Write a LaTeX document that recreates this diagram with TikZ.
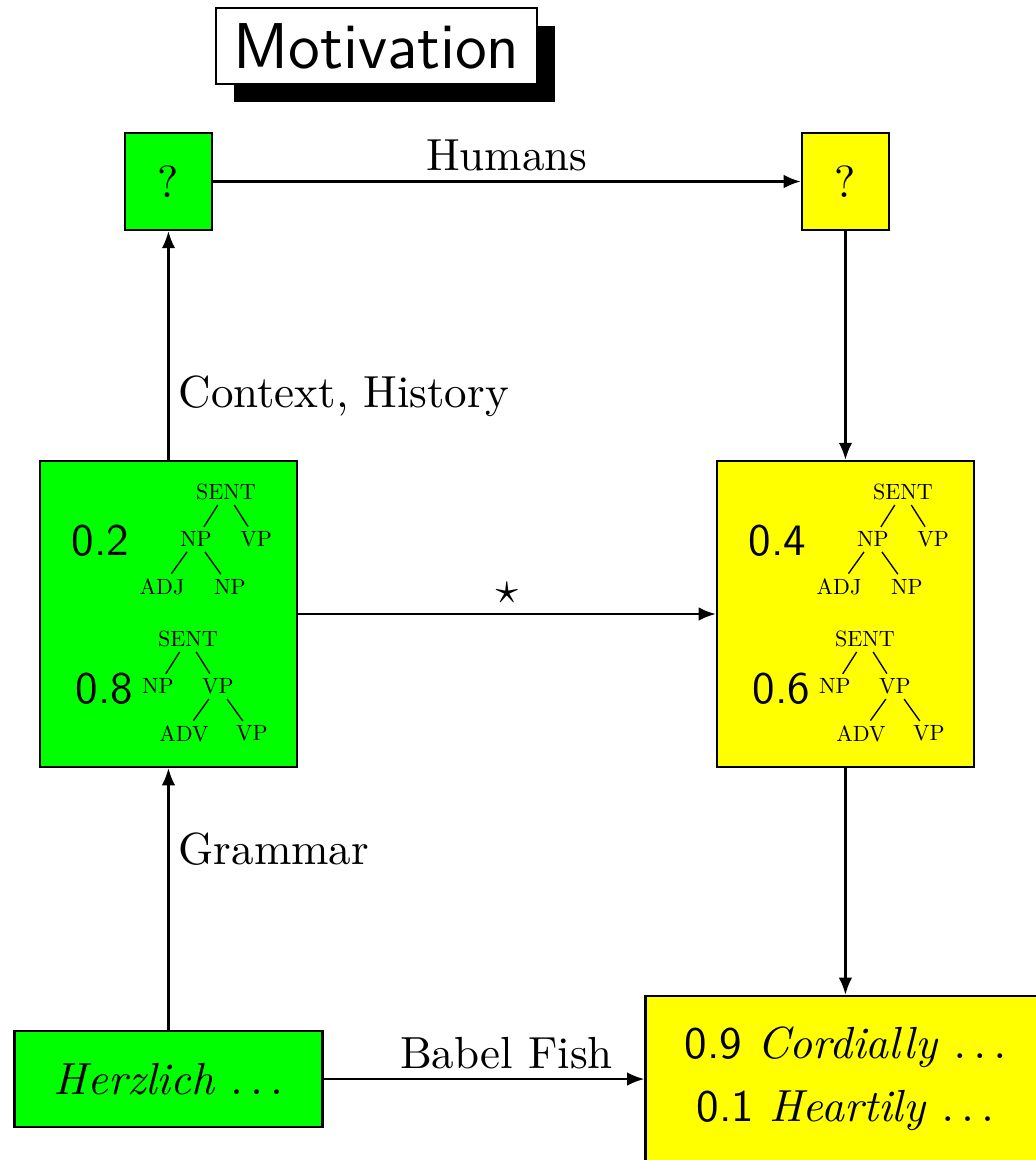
\documentclass[tikz,border=0pt]{standalone}
\usetikzlibrary{arrows.meta,shadows}

\definecolor{greenBox}{RGB}{0,255,0}
\definecolor{yellowBox}{RGB}{255,255,0}

% two weighted parse trees inside a box
\newcommand{\parsetrees}[3]{%
  \begin{scope}[shift={(#1.center)}]
    \node[prob] (#1-pa) at (-0.53,0.57) {#2};
    \node[prob] (#1-pb) at (-0.5,-0.58) {#3};
    % first tree
    \node[leaf] (#1-sa) at (0.45,0.953) {SENT}
      child {node[leaf] (#1-npa) {NP}
        child {node[leaf] (#1-adj) {ADJ}}
        child {node[leaf] (#1-npb) {NP}}}
      child {node[leaf] (#1-vpa) {VP}};
    % second tree
    \node[leaf] (#1-sb) at (0.152,-0.195) {SENT}
      child {node[leaf] (#1-npc) {NP}}
      child {node[leaf] (#1-vpb) {VP}
        child {node[leaf] (#1-adv) {ADV}}
        child {node[leaf] (#1-vpc) {VP}}};
  \end{scope}}

\begin{document}
\begin{tikzpicture}[line width=0.5pt,
    box/.style={draw, inner sep=0pt},
    qbox/.style={box, minimum width=0.68cm, minimum height=0.758cm},
    treebox/.style={box, minimum width=2.008cm, minimum height=2.391cm},
    prob/.style={font=\sffamily},
    leaf/.style={font=\normalsize, scale=0.49, inner sep=2pt},
    level distance=0.37cm,
    level 1/.style={sibling distance=0.47cm},
    level 2/.style={sibling distance=0.53cm},
    edge from parent/.style={draw, line width=0.3pt},
    arr/.style={-{Latex[length=3.8pt,width=3pt]}},
    lab/.style={inner sep=2pt},
    title/.style={draw, fill=white, font=\sffamily\Large,
      minimum width=2.508cm, minimum height=0.594cm,
      general shadow={fill=black, shadow xshift=0.14cm, shadow yshift=-0.14cm}}]
  \useasboundingbox (0,0) rectangle (8.086,-9.0625);

  \node[title] (title) at (2.941,-0.359) {Motivation};

  % Boxes
  \node[qbox, fill=greenBox] (gq) at (1.316,-1.418) {?};
  \node[qbox, fill=yellowBox] (yq) at (6.605,-1.418) {?};
  \node[treebox, fill=greenBox] (gtree) at (1.316,-4.797) {};
  \node[treebox, fill=yellowBox] (ytree) at (6.605,-4.797) {};
  \node[box, fill=greenBox, minimum width=2.406cm, minimum height=0.75cm]
    (herz) at (1.316,-8.43) {\textit{Herzlich} $\ldots$};
  \node[box, fill=yellowBox, minimum width=3.125cm, minimum height=1.3cm, align=center]
    (result) at (6.605,-8.43)
    {\textsf{0.9} \textit{Cordially} $\ldots$\\[2pt] \textsf{0.1} \textit{Heartily} $\ldots$};

  \parsetrees{gtree}{0.2}{0.8}
  \parsetrees{ytree}{0.4}{0.6}

  % Arrows
  \draw[arr] (gq) -- node[lab, above] {Humans} (yq);
  \draw[arr] (gtree) -- node[lab, pos=0.28, right] {Context, History} (gq);
  \draw[arr] (yq) -- (ytree);
  \draw[arr] (gtree) -- node[lab, above] {$\star$} (ytree);
  \draw[arr] (herz) -- node[lab, pos=0.69, right] {Grammar} (gtree);
  \draw[arr] (ytree) -- (result);
  \draw[arr] (herz) -- node[lab, pos=0.57, above] {Babel Fish} (result);
\end{tikzpicture}
\end{document}
